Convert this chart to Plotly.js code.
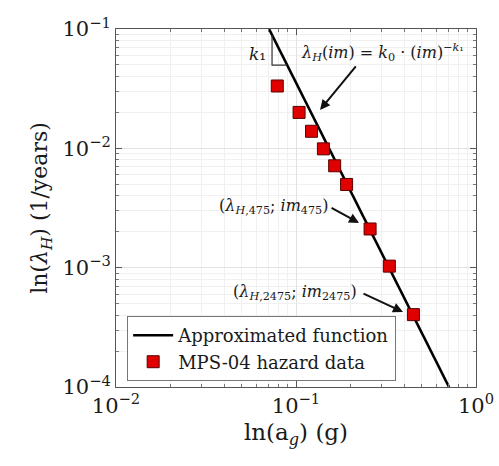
<!DOCTYPE html>
<html>
<head>
<meta charset="utf-8">
<script src="https://cdn.plot.ly/plotly-3.0.1.min.js"></script>
<style>
  html, body { margin: 0; padding: 0; background: #ffffff; }
  #chart { width: 499px; height: 466px; }
</style>
</head>
<body>
<div id="chart"></div>
<script>
// MPS-04 hazard curve: peak ground acceleration (g) vs annual exceedance rate
const pga = [0.0787, 0.104, 0.122, 0.142, 0.164, 0.191, 0.258, 0.330, 0.449];
const rate = [0.0333, 0.0200, 0.0139, 0.0099, 0.00714, 0.00498, 0.00211, 0.00103, 0.000404];

// Approximated power-law function, end points of the drawn segment
const fitIm = [0.0708, 0.708];
const fitRate = [0.1, 0.0001];

// Slope triangle next to the fitted line
const triIm = [0.0736, 0.0736, 0.0891];
const triRate = [0.0890, 0.0499, 0.0499];

// Decade ticks
const xTickVals = [0.01, 0.1, 1];
const xTickText = ["10<sup>−2</sup>", "10<sup>−1</sup>", "10<sup>0</sup>"];
const yTickVals = [0.0001, 0.001, 0.01, 0.1];
const yTickText = ["10<sup>−4</sup>", "10<sup>−3</sup>", "10<sup>−2</sup>", "10<sup>−1</sup>"];

const serif = "DejaVu Serif, Liberation Serif, serif";
const ink = "#1a1a1a";

const traces = [
  {
    x: fitIm, y: fitRate, type: "scatter", mode: "lines",
    name: "Approximated function",
    line: { color: "#000000", width: 2.6 }
  },
  {
    x: pga, y: rate, type: "scatter", mode: "markers",
    name: "MPS-04 hazard data",
    marker: { symbol: "square", size: 12, color: "#e00000",
              line: { color: "#5a0000", width: 1 } }
  },
  {
    x: triIm, y: triRate, type: "scatter", mode: "lines",
    showlegend: false, hoverinfo: "skip",
    line: { color: "#333333", width: 1.2 }
  }
];

const axisCommon = {
  type: "log",
  tickmode: "array",
  showline: true, linecolor: "#555555", linewidth: 1,
  mirror: "ticks",
  ticks: "inside", ticklen: 6, tickcolor: "#555555",
  showgrid: true, gridcolor: "#e2e2e2", gridwidth: 1,
  zeroline: false,
  tickfont: { family: serif, size: 21, color: ink },
  minor: {
    dtick: "D1", ticks: "inside", ticklen: 3, tickcolor: "#777777",
    showgrid: true, gridcolor: "#f0f0f0", gridwidth: 1
  }
};

const layout = {
  width: 499, height: 466,
  margin: { l: 116, r: 23, t: 29, b: 79 },
  paper_bgcolor: "#ffffff", plot_bgcolor: "#ffffff",
  showlegend: true,
  font: { family: serif, color: ink },
  xaxis: Object.assign({}, axisCommon, {
    range: [-2, 0],
    tickvals: xTickVals, ticktext: xTickText,
    title: { text: "ln(a<sub><i>g</i></sub>) (g)", font: { family: serif, size: 23, color: ink }, standoff: 6 }
  }),
  yaxis: Object.assign({}, axisCommon, {
    range: [-4, -1],
    tickvals: yTickVals, ticktext: yTickText,
    title: { text: "ln(<i>λ<sub>H</sub></i>) (1/years)", font: { family: serif, size: 22, color: ink }, standoff: 8 }
  }),
  legend: {
    x: 0.031, y: 0.198, xanchor: "left", yanchor: "top",
    bgcolor: "#ffffff", bordercolor: "#777777", borderwidth: 1,
    font: { family: serif, size: 18, color: ink },
    itemwidth: 40, tracegroupgap: 0
  },
  annotations: [
    { xref: "paper", yref: "paper", x: 0.392, y: 0.930, xanchor: "center", yanchor: "middle",
      text: "<i>k</i>₁", showarrow: false, font: { family: serif, size: 17, color: ink } },
    { xref: "paper", yref: "paper", x: 0.508, y: 0.933, xanchor: "left", yanchor: "middle",
      text: "<i>λ<sub>H</sub></i>(<i>im</i>) = <i>k</i><sub>0</sub> · (<i>im</i>)<sup>−<i>k</i>₁</sup>",
      showarrow: false, font: { family: serif, size: 16, color: ink } },
    { xref: "paper", yref: "paper", x: 0.594, y: 0.503, xanchor: "right", yanchor: "middle",
      text: "(<i>λ</i><sub><i>H</i>,475</sub>; <i>im</i><sub>475</sub>)",
      showarrow: false, font: { family: serif, size: 16, color: ink } },
    { xref: "paper", yref: "paper", x: 0.675, y: 0.265, xanchor: "right", yanchor: "middle",
      text: "(<i>λ</i><sub><i>H</i>,2475</sub>; <i>im</i><sub>2475</sub>)",
      showarrow: false, font: { family: serif, size: 16, color: ink } },
    // arrows pointing at the line and at the 475 / 2475-year points
    { xref: "x", yref: "y", x: Math.log10(0.136), y: Math.log10(0.0210), text: "",
      showarrow: true, arrowhead: 2, arrowsize: 1, arrowwidth: 2, arrowcolor: "#111111",
      axref: "pixel", ayref: "pixel", ax: 37, ay: -45 },
    { xref: "x", yref: "y", x: Math.log10(0.224), y: Math.log10(0.00237), text: "",
      showarrow: true, arrowhead: 2, arrowsize: 1, arrowwidth: 2, arrowcolor: "#111111",
      axref: "pixel", ayref: "pixel", ax: -29, ay: -16 },
    { xref: "x", yref: "y", x: Math.log10(0.393), y: Math.log10(0.000425), text: "",
      showarrow: true, arrowhead: 2, arrowsize: 1, arrowwidth: 2, arrowcolor: "#111111",
      axref: "pixel", ayref: "pixel", ax: -41, ay: -19 }
  ]
};

Plotly.newPlot("chart", traces, layout, { displayModeBar: false, staticPlot: true });
</script>
</body>
</html>
